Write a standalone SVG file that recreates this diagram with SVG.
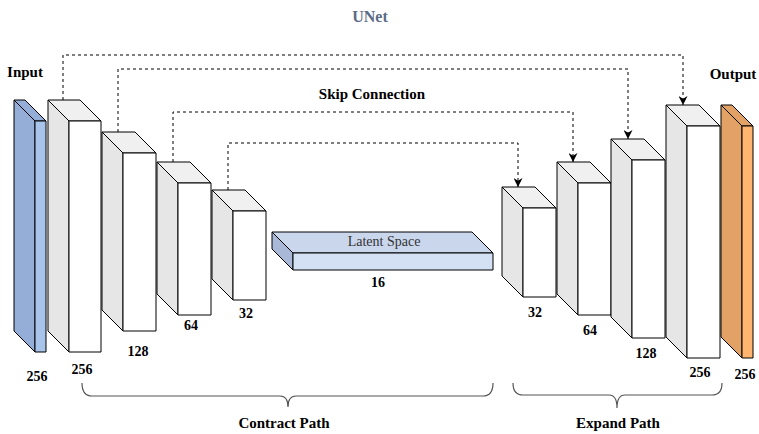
<svg xmlns="http://www.w3.org/2000/svg" width="759" height="434" viewBox="0 0 759 434">
<style>
  text { font-family: "Liberation Serif", "Times New Roman", serif; }
  .lbl { font-size: 15px; font-weight: bold; fill: #000; text-anchor: middle; }
  .num { font-size: 14px; font-weight: bold; fill: #000; text-anchor: middle; }
  .title { font-size: 16px; font-weight: bold; fill: #5B6B87; text-anchor: middle; }
  .lat { font-size: 14px; fill: #333; text-anchor: middle; }
  .edge { stroke: #000; stroke-width: 1; fill: none; stroke-linejoin: round; }
  .w-front { fill: #FFFFFF; }
  .w-side { fill: #E6E6E6; }
  .w-top { fill: #F0F0F0; }
  .b-front { fill: #A9C4EB; }
  .b-side { fill: #94AED7; }
  .o-front { fill: #FFB570; }
  .o-side { fill: #E2A265; }
  .l-front { fill: #D4E1F5; }
  .l-top { fill: #C9D6EC; }
  .l-side { fill: #A8B8D6; }
  .skip { stroke: #000; stroke-width: 1; fill: none; stroke-dasharray: 3 3; }
  .brace { stroke: #555; stroke-width: 1.2; fill: none; }
</style>
<defs>
  <marker id="arr" markerWidth="9" markerHeight="9" viewBox="0 0 10 10" refX="10" refY="5" orient="auto" markerUnits="userSpaceOnUse">
    <path d="M0,0 L10,5 L0,10 L3,5 z" fill="#000"/>
  </marker>
</defs>

<text class="title" x="370" y="22">UNet</text>
<text class="lbl" x="25" y="77">Input</text>
<text class="lbl" x="733" y="79">Output</text>
<text class="lbl" x="372" y="99">Skip Connection</text>

<g id="connectors">
  <path class="skip" d="M63,100 V55 H683 V105" marker-end="url(#arr)"/>
  <path class="skip" d="M118,132 V69 H628 V139" marker-end="url(#arr)"/>
  <path class="skip" d="M173,162 V112 H573 V162" marker-end="url(#arr)"/>
  <path class="skip" d="M228,190 V143 H518 V187" marker-end="url(#arr)"/>
</g>

<g id="input">
  <path class="b-side edge" d="M14,100 L35,121 L35,352 L14,331 Z"/>
  <path class="b-side edge" d="M14,100 L25,100 L46,121 L35,121 Z"/>
  <rect class="b-front edge" x="35" y="121" width="11" height="231"/>
  <text class="num" x="37" y="381">256</text>
</g>

<g id="enc256">
  <path class="w-side edge" d="M48,100 L69,121 L69,352 L48,331 Z"/>
  <path class="w-top edge" d="M48,100 L80,100 L101,121 L69,121 Z"/>
  <rect class="w-front edge" x="69" y="121" width="32" height="231"/>
  <text class="num" x="82" y="374">256</text>
</g>

<g id="enc128">
  <path class="w-side edge" d="M102,132 L123,153 L123,331 L102,310 Z"/>
  <path class="w-top edge" d="M102,132 L135,132 L156,153 L123,153 Z"/>
  <rect class="w-front edge" x="123" y="153" width="33" height="178"/>
  <text class="num" x="138" y="356">128</text>
</g>

<g id="enc64">
  <path class="w-side edge" d="M157,162 L178,183 L178,315 L157,294 Z"/>
  <path class="w-top edge" d="M157,162 L190,162 L211,183 L178,183 Z"/>
  <rect class="w-front edge" x="178" y="183" width="33" height="132"/>
  <text class="num" x="191" y="330">64</text>
</g>

<g id="enc32">
  <path class="w-side edge" d="M212,190 L233,211 L233,300 L212,279 Z"/>
  <path class="w-top edge" d="M212,190 L245,190 L266,211 L233,211 Z"/>
  <rect class="w-front edge" x="233" y="211" width="33" height="89"/>
  <text class="num" x="246" y="318">32</text>
</g>

<g id="latent">
  <path class="l-side edge" d="M272,232 L293,253 L293,270 L272,249 Z"/>
  <path class="l-top edge" d="M272,232 L472,232 L493,253 L293,253 Z"/>
  <rect class="l-front edge" x="293" y="253" width="200" height="17"/>
  <text class="lat" x="384" y="246">Latent Space</text>
  <text class="num" x="378" y="287">16</text>
</g>

<g id="dec32">
  <path class="w-side edge" d="M502,187 L523,208 L523,297 L502,276 Z"/>
  <path class="w-top edge" d="M502,187 L535,187 L556,208 L523,208 Z"/>
  <rect class="w-front edge" x="523" y="208" width="33" height="89"/>
  <text class="num" x="535" y="317">32</text>
</g>

<g id="dec64">
  <path class="w-side edge" d="M557,162 L578,183 L578,315 L557,294 Z"/>
  <path class="w-top edge" d="M557,162 L590,162 L611,183 L578,183 Z"/>
  <rect class="w-front edge" x="578" y="183" width="33" height="132"/>
  <text class="num" x="590" y="335">64</text>
</g>

<g id="dec128">
  <path class="w-side edge" d="M611,139 L632,160 L632,338 L611,317 Z"/>
  <path class="w-top edge" d="M611,139 L644,139 L665,160 L632,160 Z"/>
  <rect class="w-front edge" x="632" y="160" width="33" height="178"/>
  <text class="num" x="646" y="358">128</text>
</g>

<g id="dec256">
  <path class="w-side edge" d="M666,105 L687,126 L687,358 L666,337 Z"/>
  <path class="w-top edge" d="M666,105 L699,105 L720,126 L687,126 Z"/>
  <rect class="w-front edge" x="687" y="126" width="33" height="232"/>
  <text class="num" x="700" y="377">256</text>
</g>

<g id="output">
  <path class="o-side edge" d="M721,105 L742,126 L742,358 L721,337 Z"/>
  <path class="o-side edge" d="M721,105 L732,105 L753,126 L742,126 Z"/>
  <rect class="o-front edge" x="742" y="126" width="11" height="232"/>
  <text class="num" x="745" y="379">256</text>
</g>

<g id="contract-path">
  <path class="brace" d="M82,383 Q82,396 92,396 H280 Q288,396 288,407 Q288,396 296,396 H483 Q493,396 493,383"/>
  <text class="lbl" x="284" y="428">Contract Path</text>
</g>

<g id="expand-path">
  <path class="brace" d="M513,383 Q513,395 523,395 H609 Q617,395 617,408 Q617,395 625,395 H712 Q722,395 722,383"/>
  <text class="lbl" x="618" y="428">Expand Path</text>
</g>
</svg>
